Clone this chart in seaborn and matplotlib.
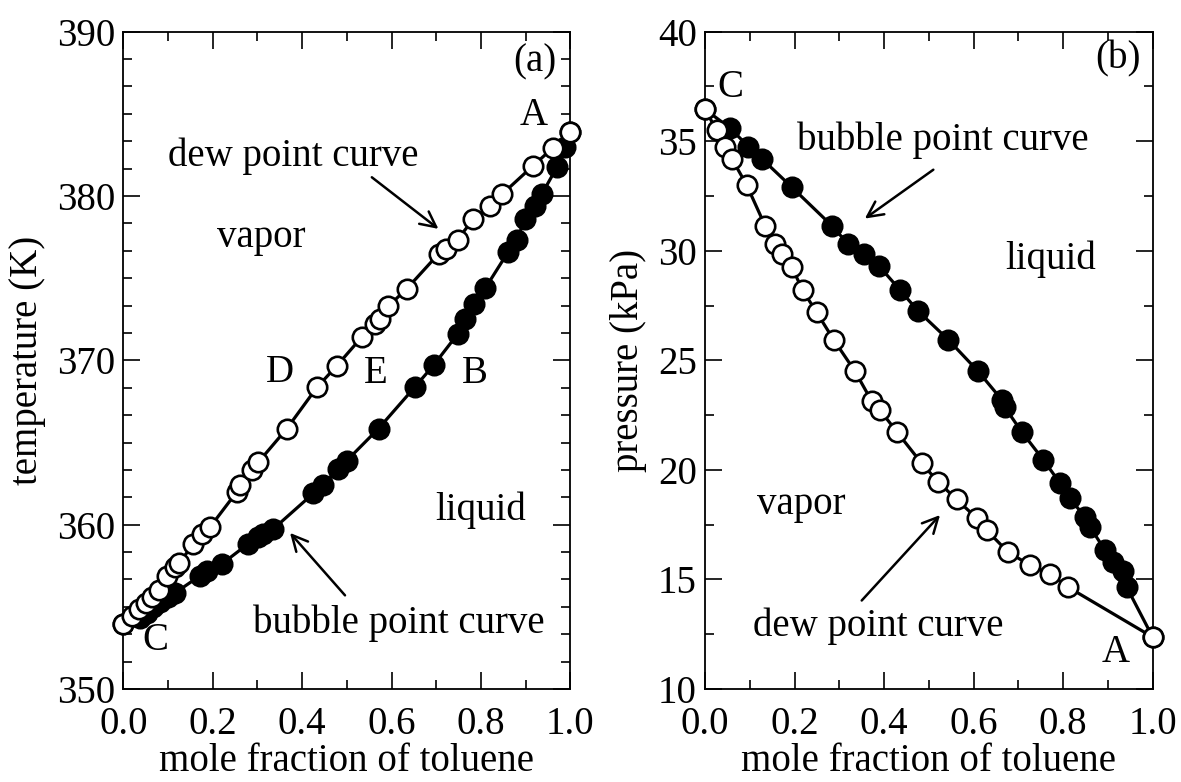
import matplotlib
matplotlib.use("Agg")
import matplotlib.pyplot as plt
import seaborn as sns
import pandas as pd
from matplotlib.ticker import MultipleLocator, AutoMinorLocator, FormatStrFormatter

# ---------------- data ----------------
# panel (a): T-x diagram (temperature in K vs mole fraction toluene)
a_dew_x = [0.0, 0.02, 0.035, 0.05, 0.065, 0.08, 0.097, 0.116, 0.125, 0.157, 0.175, 0.194,
           0.254, 0.262, 0.287, 0.302, 0.366, 0.433, 0.477, 0.533, 0.563, 0.574, 0.593,
           0.634, 0.706, 0.723, 0.748, 0.783, 0.82, 0.847, 0.917, 0.962, 1.0]
a_dew_T = [353.95, 354.45, 354.85, 355.25, 355.6, 356.0, 356.9, 357.4, 357.65, 358.85, 359.45, 359.85,
           362.0, 362.4, 363.3, 363.8, 365.85, 368.35, 369.65, 371.4, 372.2, 372.5, 373.3,
           374.35, 376.5, 376.8, 377.35, 378.6, 379.4, 380.1, 381.85, 382.95, 383.88]
a_bub_x = [0.0, 0.037, 0.052, 0.067, 0.082, 0.100, 0.116, 0.172, 0.187, 0.220, 0.280, 0.302,
           0.313, 0.336, 0.425, 0.447, 0.481, 0.500, 0.571, 0.653, 0.694, 0.748, 0.765,
           0.785, 0.810, 0.861, 0.880, 0.899, 0.921, 0.936, 0.970, 0.988, 1.0]
a_bub_T = [353.95, 354.3, 354.6, 355.0, 355.3, 355.6, 355.85, 356.9, 357.2, 357.6, 358.85, 359.25,
           359.45, 359.75, 361.9, 362.4, 363.4, 363.9, 365.85, 368.4, 369.7, 371.6, 372.5,
           373.4, 374.4, 376.6, 377.3, 378.6, 379.4, 380.1, 381.75, 383.0, 383.88]

# panel (b): P-x diagram (pressure in kPa vs mole fraction toluene)
b_dew_x = [0.0, 0.026, 0.045, 0.06, 0.093, 0.134, 0.156, 0.171, 0.194, 0.218, 0.249, 0.287,
           0.335, 0.372, 0.390, 0.428, 0.484, 0.521, 0.562, 0.607, 0.629, 0.677, 0.726,
           0.771, 0.811, 1.0]
b_dew_P = [36.45, 35.5, 34.75, 34.2, 33.0, 31.15, 30.3, 29.85, 29.25, 28.2, 27.2, 25.95,
           24.5, 23.15, 22.75, 21.75, 20.3, 19.45, 18.65, 17.8, 17.25, 16.25, 15.65,
           15.25, 14.65, 12.37]
b_bub_x = [0.0, 0.056, 0.097, 0.127, 0.194, 0.283, 0.320, 0.354, 0.389, 0.436, 0.476, 0.543,
           0.610, 0.663, 0.670, 0.707, 0.756, 0.793, 0.815, 0.849, 0.860, 0.893, 0.912,
           0.934, 0.942, 1.0]
b_bub_P = [36.45, 35.6, 34.75, 34.2, 32.9, 31.15, 30.3, 29.85, 29.3, 28.2, 27.25, 25.95,
           24.5, 23.2, 22.85, 21.75, 20.45, 19.4, 18.7, 17.85, 17.4, 16.35, 15.8,
           15.4, 14.65, 12.37]

x_label = "mole fraction of toluene"
a_ylabel = "temperature (K)"
b_ylabel = "pressure (kPa)"

# ---------------- style ----------------
sns.set_theme(style="ticks")
plt.rcParams["font.family"] = ["Liberation Serif", "DejaVu Serif"]
plt.rcParams["text.color"] = "black"
plt.rcParams["axes.labelcolor"] = "black"
plt.rcParams["xtick.color"] = "black"
plt.rcParams["ytick.color"] = "black"
plt.rcParams["axes.edgecolor"] = "black"
FS = 28

fig = plt.figure(figsize=(11.81, 7.82), dpi=100)
ax1 = fig.add_axes([0.1044, 0.1189, 0.3785, 0.8406])
ax2 = fig.add_axes([0.5970, 0.1189, 0.3790, 0.8406])

LW = 2.3
MS = 14
MEW = 1.9


def draw(ax, x, y, filled):
    df = pd.DataFrame({"x": x, "y": y})
    sns.lineplot(data=df, x="x", y="y", ax=ax, color="black", linewidth=LW,
                 marker="o", markersize=MS,
                 markerfacecolor="black" if filled else "white",
                 markeredgecolor="black", markeredgewidth=MEW,
                 estimator=None, sort=False, clip_on=False,
                 zorder=4 if not filled else 3)


draw(ax1, a_bub_x, a_bub_T, True)
draw(ax1, a_dew_x, a_dew_T, False)
draw(ax2, b_bub_x, b_bub_P, True)
draw(ax2, b_dew_x, b_dew_P, False)

for ax in (ax1, ax2):
    ax.set_xlim(0, 1)
    ax.xaxis.set_major_locator(MultipleLocator(0.2))
    ax.xaxis.set_minor_locator(AutoMinorLocator(2))
    ax.xaxis.set_major_formatter(FormatStrFormatter("%.1f"))
    ax.tick_params(which="both", direction="in", top=True, right=True,
                   width=1.2, colors="black", labelsize=FS)
    ax.tick_params(which="major", length=12.5)
    ax.tick_params(which="minor", length=6.5)
    ax.tick_params(axis="x", pad=12)
    ax.tick_params(axis="y", pad=6)
    for s in ax.spines.values():
        s.set_linewidth(1.3)
        s.set_color("black")
    ax.set_xlabel(x_label, fontsize=FS, labelpad=0)

ax1.set_ylim(350, 390)
ax1.yaxis.set_major_locator(MultipleLocator(10))
ax1.yaxis.set_minor_locator(AutoMinorLocator(6))
ax1.set_ylabel(a_ylabel, fontsize=FS, labelpad=8)

ax2.set_ylim(10, 40)
ax2.yaxis.set_major_locator(MultipleLocator(5))
ax2.yaxis.set_minor_locator(AutoMinorLocator(2))
ax2.set_ylabel(b_ylabel, fontsize=FS, labelpad=8)

arrow = dict(arrowstyle="->", lw=1.8, color="black", mutation_scale=28,
             shrinkA=0, shrinkB=0)

# panel (a) annotations
ax1.text(0.921, 388.15, "(a)", fontsize=FS, ha="center", va="center")
ax1.text(0.919, 384.9, "A", fontsize=FS, ha="center", va="center")
ax1.text(0.35, 369.24, "D", fontsize=FS, ha="center", va="center")
ax1.text(0.565, 369.2, "E", fontsize=FS, ha="center", va="center")
ax1.text(0.787, 369.2, "B", fontsize=FS, ha="center", va="center")
ax1.text(0.072, 352.98, "C", fontsize=FS, ha="center", va="center")
ax1.text(0.209, 376.89, "vapor", fontsize=FS, ha="left", va="baseline")
ax1.text(0.1007, 381.85, "dew point curve", fontsize=FS, ha="left", va="baseline")
ax1.text(0.697, 360.3, "liquid", fontsize=FS, ha="left", va="baseline")
ax1.text(0.29, 353.4, "bubble point curve", fontsize=FS, ha="left", va="baseline")
ax1.annotate("", xy=(0.705, 378.0), xytext=(0.556, 381.14), arrowprops=arrow)
ax1.annotate("", xy=(0.373, 359.5), xytext=(0.496, 355.7), arrowprops=arrow)

# panel (b) annotations
ax2.text(0.922, 38.74, "(b)", fontsize=FS, ha="center", va="center")
ax2.text(0.057, 37.43, "C", fontsize=FS, ha="center", va="center")
ax2.text(0.917, 11.65, "A", fontsize=FS, ha="center", va="center")
ax2.text(0.205, 34.6, "bubble point curve", fontsize=FS, ha="left", va="baseline")
ax2.text(0.67, 29.17, "liquid", fontsize=FS, ha="left", va="baseline")
ax2.text(0.115, 18.01, "vapor", fontsize=FS, ha="left", va="baseline")
ax2.text(0.108, 12.43, "dew point curve", fontsize=FS, ha="left", va="baseline")
ax2.annotate("", xy=(0.357, 31.47), xytext=(0.51, 33.7), arrowprops=arrow)
ax2.annotate("", xy=(0.525, 17.94), xytext=(0.35, 14.04), arrowprops=arrow)

fig.savefig("out.png", dpi=100, facecolor="white")
